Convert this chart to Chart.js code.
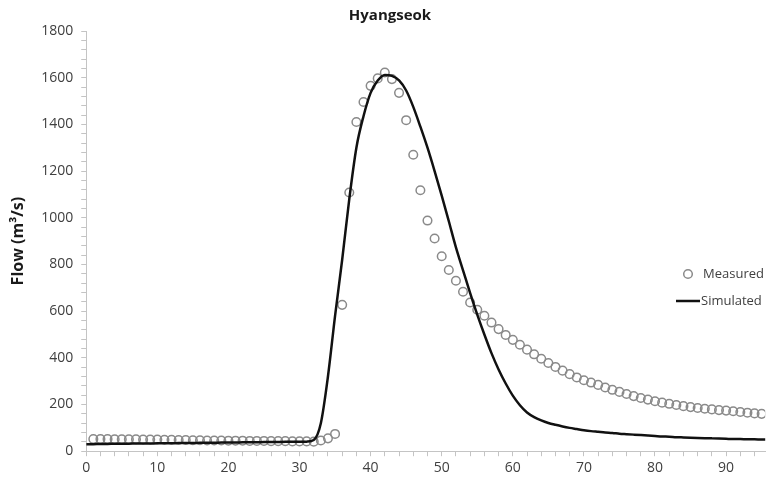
<!DOCTYPE html>
<html>
<head>
<meta charset="utf-8">
<script src="https://cdn.jsdelivr.net/npm/chart.js@4"></script>
<style>
  html, body { margin: 0; padding: 0; background: #fff; }
  #wrap { width: 771px; height: 486px; }
</style>
</head>
<body>
<div id="wrap"><canvas id="flow-chart"></canvas></div>
<script>
// measured flow, one reading per time step starting at t = 1
const measuredStart = 1
const measured = [
    52, 52, 52, 51, 51, 51, 51, 50, 50, 50,
    49, 49, 48, 48, 47, 47, 46, 46, 46, 45,
    45, 45, 44, 44, 44, 43, 43, 43, 42, 42,
    42, 41, 46, 55, 74, 627, 1108, 1410, 1496, 1565,
    1597, 1622, 1594, 1535, 1418, 1270, 1118, 988, 911, 835,
    776, 730, 683, 637, 606, 580, 551, 523, 498, 477,
    456, 435, 415, 396, 378, 361, 345, 330, 316, 304,
    294, 284, 273, 263, 254, 245, 236, 228, 221, 214,
    208, 203, 198, 193, 189, 185, 182, 179, 176, 174,
    171, 168, 165, 162, 160
]

// simulated flow, starting at t = 0
const simulated = [
    30, 30, 31, 31, 32, 32, 32, 33, 33, 33,
    34, 34, 34, 35, 35, 35, 36, 36, 36, 37,
    37, 37, 38, 38, 38, 39, 39, 39, 40, 40,
    40, 41, 48, 120, 320, 580, 820, 1080, 1300, 1435,
    1535, 1588, 1612, 1608, 1588, 1545, 1475, 1390, 1300, 1200,
    1095, 985, 873, 775, 677, 585, 500, 420, 350, 290,
    238, 197, 166, 146, 132, 121, 113, 106, 100, 95,
    90, 86, 83, 80, 78, 75, 73, 71, 69, 67,
    65, 63, 62, 60, 59, 58, 57, 56, 55, 54,
    53, 52, 52, 51, 51, 50, 50
]

const xTickLabels = [0, 10, 20, 30, 40, 50, 60, 70, 80, 90]
const yTickLabels = [0, 200, 400, 600, 800, 1000, 1200, 1400, 1600, 1800]

const font = "'Open Sans', 'DejaVu Sans', sans-serif"
const textColor = '#404040'
const axisColor = '#c4c4c4'
const circleColor = '#8a8a8a'

const legendPlugin = {
    id: 'sideLegend',
    afterDraw(chart) {
        const ctx = chart.ctx
        ctx.save()
        ctx.font = '13px ' + font
        ctx.fillStyle = textColor
        ctx.textBaseline = 'middle'
        // measured
        ctx.beginPath()
        ctx.arc(688, 274, 4.3, 0, Math.PI * 2)
        ctx.strokeStyle = circleColor
        ctx.lineWidth = 1.5
        ctx.stroke()
        ctx.fillText('Measured', 703, 274)
        // simulated
        ctx.beginPath()
        ctx.moveTo(676, 301)
        ctx.lineTo(700, 301)
        ctx.strokeStyle = '#111'
        ctx.lineWidth = 2.5
        ctx.stroke()
        ctx.fillText('Simulated', 701, 301)
        ctx.restore()
    }
}

new Chart(document.querySelector('#flow-chart').getContext('2d'), {
    type: 'scatter',
    data: {
        datasets: [
            {
                label: 'Measured',
                data: measured.map((v, i) => ({x: i + measuredStart, y: v})),
                showLine: false,
                pointStyle: 'circle',
                pointRadius: 4.3,
                pointBorderWidth: 1.5,
                pointBorderColor: circleColor,
                pointBackgroundColor: 'rgba(255,255,255,0)',
                order: 2
            },
            {
                label: 'Simulated',
                data: simulated.map((v, i) => ({x: i, y: v})),
                showLine: true,
                pointRadius: 0,
                borderColor: '#111',
                borderWidth: 2.5,
                cubicInterpolationMode: 'monotone',
                order: 1
            }
        ]
    },
    options: {
        responsive: true,
        maintainAspectRatio: false,
        animation: false,
        layout: { padding: { left: 9, right: 0, top: 7, bottom: 7 } },
        plugins: {
            legend: { display: false },
            tooltip: { enabled: false },
            title: {
                display: true,
                text: 'Hyangseok',
                color: '#1a1a1a',
                font: { family: font, size: 15, weight: 'bold' },
                padding: { top: 0, bottom: 6 }
            }
        },
        scales: {
            x: {
                type: 'linear',
                min: 0,
                max: 95.5,
                grid: { drawOnChartArea: false, color: axisColor, tickLength: 5 },
                border: { color: axisColor, width: 1 },
                ticks: {
                    stepSize: 2,
                    includeBounds: false,
                    autoSkip: false,
                    maxRotation: 0,
                    color: textColor,
                    font: { family: font, size: 14 },
                    padding: 3,
                    callback: v => xTickLabels.includes(v) ? String(v) : ''
                }
            },
            y: {
                min: 0,
                max: 1800,
                grid: { drawOnChartArea: false, color: axisColor, tickLength: 5 },
                border: { color: axisColor, width: 1 },
                ticks: {
                    stepSize: 40,
                    autoSkip: false,
                    color: textColor,
                    font: { family: font, size: 14 },
                    padding: 8,
                    callback: v => yTickLabels.includes(v) ? String(v) : ''
                },
                title: {
                    display: true,
                    text: 'Flow (m³/s)',
                    color: '#1a1a1a',
                    font: { family: font, size: 16, weight: 'bold' },
                    padding: { top: 0, bottom: 5 }
                }
            }
        }
    },
    plugins: [legendPlugin]
});
</script>
</body>
</html>
